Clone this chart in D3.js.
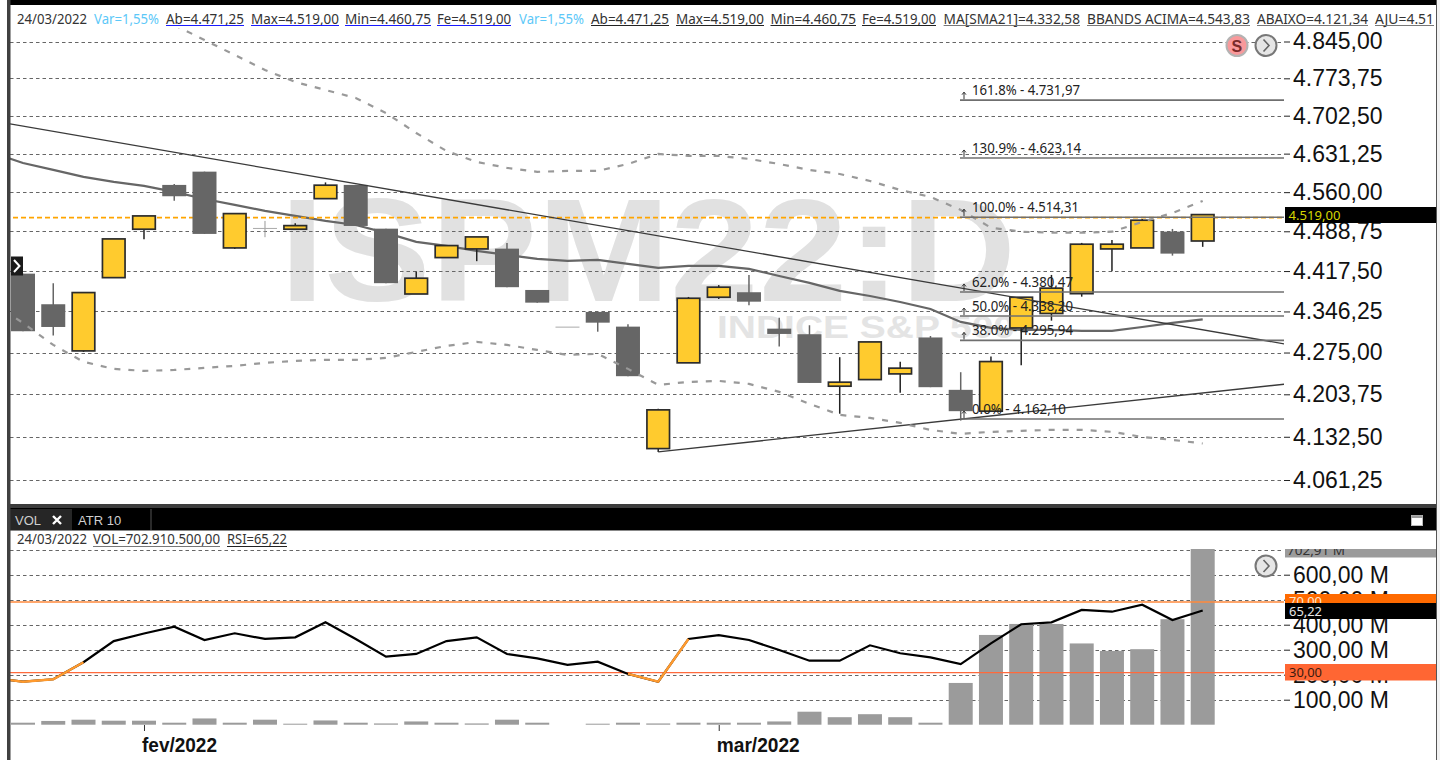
<!DOCTYPE html>
<html>
<head>
<meta charset="utf-8">
<script src="https://cdn.jsdelivr.net/npm/d3@7"></script>
<style>
html,body{margin:0;padding:0;background:#fff;overflow:hidden}
svg{display:block}
</style>
</head>
<body>
<svg id="c" width="1440" height="760"></svg>
<script>
// ---------- data ----------
const openP  = [4412.9,4358.9,4277.8,4405.8,4492.5,4573.3,4597.8,4458.8,4494.8,4492.5,4548.1,4573.3,4493.5,4376.9,4441.5,4457,4457.5,4384,4319.8,4345.4,4319.8,4112.9,4257.3,4371.2,4380,4316.3,4306.6,4217.5,4228.7,4238.4,4301,4211.3,4175.3,4317.5,4342.7,4377.5,4457,4458.8,4488.1,4471.25];
const highP  = [4412.9,4396,4379.4,4475,4516.6,4575.1,4597.8,4520.8,4507.5,4503.3,4577.9,4573.3,4493.5,4416.5,4463,4478.6,4467.8,4384,4319.8,4345.4,4323.9,4179.2,4371.7,4392.5,4410.6,4335.4,4322.2,4267,4293.3,4259.2,4303.5,4241.3,4268,4371.2,4410.6,4467.8,4473,4511,4493,4519];
const lowP   = [4311.8,4304.2,4276,4405.8,4474.5,4544.4,4484,4457,4478.1,4492.5,4548.1,4498.4,4396,4376.9,4441.5,4435.1,4388.9,4361.7,4319.8,4311,4234.5,4107.4,4257.3,4368.2,4357,4285.2,4223,4171,4228.7,4206.2,4215.8,4159.5,4175.3,4253.3,4330.2,4372.2,4417.2,4458.8,4445,4460.75];
const closeP = [4311.8,4319.2,4379.4,4475,4516.6,4552.5,4484,4520.8,4494.8,4499,4572.8,4498.4,4396,4404.8,4463,4478.6,4388.9,4361.7,4319.8,4326.7,4234.5,4177.5,4369.4,4388.9,4363.4,4307.1,4223,4224.3,4293.3,4248.2,4215.8,4175.3,4259.5,4371.2,4387.2,4465.5,4465.5,4508.8,4448.6,4519];
// the overlays start one session before the first visible candle
const sma21 = [4632.4,4613.8,4601,4588,4578.8,4571.5,4560.4,4547.5,4536.6,4525.7,4516.6,4507.5,4500.2,4485.8,4469.6,4462.4,4453.4,4446.3,4439.2,4435.6,4437.4,4430.3,4423.1,4426.7,4426.7,4421.3,4408.8,4396.5,4382.3,4373.4,4362.9,4350.6,4328,4317.5,4314.1,4314.1,4312.3,4312.3,4319.2,4326.2,4332.58];
const bbLower = [4361.1,4326.2,4288.1,4259,4247,4243.5,4245.2,4248.7,4252.1,4257.3,4260.7,4262.4,4262.4,4265.8,4276.1,4286.4,4293.3,4288.1,4279.5,4270.9,4272.7,4247,4219.7,4224.8,4226.5,4221.4,4207.9,4187.6,4169.1,4164,4155.6,4144,4137.3,4140.7,4142.3,4144,4144,4140.7,4132.3,4127.4,4121.34];
const bbUpper = [4877.3,4847.9,4818.8,4789.8,4766.7,4751.4,4736.1,4707.6,4669.9,4636.2,4615.8,4604.8,4597.4,4599.2,4599.2,4612,4630.7,4627,4627,4621.4,4612,4601,4593.5,4580.6,4564,4551.2,4527.6,4495.2,4488,4486.2,4486.2,4488,4505.7,4522,4543.83];
const bbUpperStart = 5;
const volumeM = [8,15,20,16,16,8,25,8,20,4,17,8,5,13,8,5,20,8,0,4,8,5,8,8,8,13,52,30,42,30,8,167,359,403,403,325,295,302,422,702.91];
const rsi = [27,24.9,26.3,35.9,47.9,52.2,56,48.5,52.3,49.1,50,58.5,49.1,39.1,40.6,47.9,50,40.6,38.1,34.4,36.2,29.3,24.9,49.1,51.2,48.5,42.8,36.8,36.8,45.5,41,38.7,34.9,46.6,57.4,58.5,65.5,64.5,68.5,59.8,65.22];
const rsiOrangeRanges = [[-1,2],[20,22]];
const priceTicks = [4845,4773.75,4702.5,4631.25,4560,4488.75,4417.5,4346.25,4275,4203.75,4132.5,4061.25];
const volTicks = [100,200,300,400,500,600];
const volGrid = [100,200,300,400,500,600,700];
const fibLevels = ["161.8%","130.9%","100.0%","62.0%","50.0%","38.0%","0.0%"];
const fibValues = [4731.97,4623.14,4514.31,4380.47,4338.20,4295.94,4162.10];
const fibLabelEnd = [1080,1081,1079,1073,1073,1073,1066];
const trendDown = [[-0.43,4686.9],[41.7,4289.9]];
const trendUp = [[21,4107.4],[41.7,4220.9]];
const currentLinePrice = 4513.5;
const months = ["fev/2022","mar/2022"];
const monthIndex = [4,23];
const header1 = [["24/03/2022",17,87,"#333",null],["Var=1,55%",94,159,"#5cc8f8",null],["Ab=4.471,25",166,244,"#333","#1a1aff"],["Max=4.519,00",251,339,"#333","#1a1aff"],["Min=4.460,75",345,431,"#333","#1a1aff"],["Fe=4.519,00",437,511,"#333","#1a1aff"],["Var=1,55%",519,584,"#5cc8f8",null],["Ab=4.471,25",591,669,"#333","#222"],["Max=4.519,00",676,764,"#333","#222"],["Min=4.460,75",770.5,856,"#333","#222"],["Fe=4.519,00",862,936,"#333","#222"],["MA[SMA21]=4.332,58",943.6,1080,"#333","#777"],["BBANDS ACIMA=4.543,83",1087,1250,"#333","#777"],["ABAIXO=4.121,34",1257,1368,"#333","#777"],["AJU=4.51",1375,1434,"#333","#777"]];
const header2 = [["24/03/2022",17,87,null],["VOL=702.910.500,00",93,220,"#777"],["RSI=65,22",227,287,"#222"]];

// ---------- scales ----------
const x = d3.scaleLinear().domain([0,39]).range([23,1202.7]);
const y = d3.scaleLog().domain([4845,4061.25]).range([41.5,480]);
const yVol = d3.scaleLinear().domain([0,700]).range([724.7,549.7]);
const yRsi = d3.scaleLinear().domain([30,70]).range([672.7,602]);
const loc = d3.formatLocale({decimal:",",thousands:".",grouping:[3],currency:["",""]});
const fmt = loc.format(",.2f");

const svg = d3.select("#c");
const UI = "'Noto Sans',Roboto,sans-serif";
const AX = "'Liberation Sans',Arial,sans-serif";
const defs = svg.append("defs");
defs.append("clipPath").attr("id","mainClip").append("rect").attr("x",10).attr("y",28).attr("width",1274).attr("height",476);
defs.append("clipPath").attr("id","mainClip2").append("rect").attr("x",10).attr("y",28).attr("width",1426).attr("height",476);
defs.append("clipPath").attr("id","volClip").append("rect").attr("x",10).attr("y",549).attr("width",1426).attr("height",211);

const t = (g,s,xp,yp,opts={}) => {
  const n = g.append("text").attr("x",xp).attr("y",yp).text(s)
    .attr("font-family",opts.font||UI).attr("font-size",opts.size||13)
    .attr("fill",opts.fill||"#333");
  if(opts.weight) n.attr("font-weight",opts.weight);
  if(opts.len) n.attr("textLength",opts.len).attr("lengthAdjust","spacingAndGlyphs");
  return n;
};

// ---------- watermark ----------
const main = svg.append("g").attr("clip-path","url(#mainClip2)");
t(main,"ISPM22:D",280,301,{font:AX,size:146,weight:"bold",fill:"#e1e1e1",len:736});
t(main,"INDICE S&P 500",717,338,{font:AX,size:32,weight:"bold",fill:"#e4e4e4",len:298});

// ---------- price grid ----------
const plot = main.append("g").attr("clip-path","url(#mainClip)");
plot.append("g").selectAll("line").data(priceTicks).join("line")
  .attr("x1",10).attr("x2",1284)
  .attr("y1",d=>Math.round(y(d))+.5).attr("y2",d=>Math.round(y(d))+.5)
  .attr("stroke","#666").attr("stroke-width",1.2).attr("stroke-dasharray","3.5 3");

// ---------- SMA below candles ----------
const lineIdx = (start) => d3.line().x((d,i)=>x(i+start)).y(d=>y(d));
plot.append("path").attr("d",lineIdx(-1)(sma21)).attr("fill","none").attr("stroke","#666").attr("stroke-width",2.2);

// ---------- current price line ----------
plot.append("line").attr("x1",13).attr("x2",1284).attr("y1",y(currentLinePrice)).attr("y2",y(currentLinePrice))
  .attr("stroke","#ffa500").attr("stroke-width",1.6).attr("stroke-dasharray","5 3");

// ---------- candles ----------
const YEL="#ffcb2e", GR="#666";
const cand = plot.append("g").selectAll("g").data(d3.range(openP.length)).join("g");
cand.append("line")
  .attr("x1",i=>x(i)).attr("x2",i=>x(i))
  .attr("y1",i=>y(highP[i])).attr("y2",i=>y(lowP[i]))
  .attr("stroke",i=>closeP[i]>openP[i]?"#222":(closeP[i]===openP[i]?"#999":GR))
  .attr("stroke-width",i=>closeP[i]===openP[i]?1:1.5);
cand.append("rect")
  .attr("x",i=>x(i)-(closeP[i]>openP[i]?11.3:12))
  .attr("width",i=>closeP[i]>openP[i]?22.6:24)
  .attr("y",i=>y(Math.max(openP[i],closeP[i])))
  .attr("height",i=>Math.max(y(Math.min(openP[i],closeP[i]))-y(Math.max(openP[i],closeP[i])),closeP[i]===openP[i]?1:0))
  .attr("fill",i=>closeP[i]>openP[i]?YEL:(closeP[i]===openP[i]?"#aaa":GR))
  .attr("stroke",i=>closeP[i]>openP[i]?"#2c2c2c":"none")
  .attr("stroke-width",1.7);

// ---------- trendlines and bands over candles ----------
const pt = d3.line().x(d=>x(d[0])).y(d=>y(d[1]));
plot.append("path").attr("d",pt(trendDown)).attr("stroke","#3a3a3a").attr("stroke-width",1.3).attr("fill","none");
plot.append("path").attr("d",pt(trendUp)).attr("stroke","#3a3a3a").attr("stroke-width",1.3).attr("fill","none");
const bandStyle = p => p.attr("fill","none").attr("stroke","#999").attr("stroke-width",2.2).attr("stroke-dasharray","6 8");
plot.append("path").attr("d",lineIdx(bbUpperStart)(bbUpper)).call(bandStyle);
plot.append("path").attr("d",lineIdx(-1)(bbLower)).call(bandStyle);

// ---------- fibonacci ----------
const fib = plot.append("g");
fibValues.forEach((v,k)=>{
  const ly = y(v);
  fib.append("line").attr("x1",960).attr("x2",1284).attr("y1",ly).attr("y2",ly).attr("stroke","#6f6f6f").attr("stroke-width",1.6);
  fib.append("path").attr("d",`M964 ${ly-1}V${ly-8}M962 ${ly-5.5}L964 ${ly-8}L966 ${ly-5.5}`).attr("fill","none").attr("stroke","#333").attr("stroke-width",1);
  const label = fibLevels[k]+" - "+fmt(v);
  t(fib,label,972,ly-5,{size:13.5,fill:"#222",len:fibLabelEnd[k]-972});
});

// ---------- price axis ----------
const axP = svg.append("g").attr("transform","translate(1284,0)")
  .call(d3.axisRight(y).tickValues(priceTicks).tickFormat(fmt).tickSize(6).tickPadding(3));
axP.select(".domain").remove();
axP.selectAll("line").attr("stroke","#222");
axP.selectAll("text").attr("font-family",AX).attr("font-size",23).attr("fill","#111");

// ---------- icons ----------
const circ = (cx,cy,fill,stroke)=>svg.append("circle").attr("cx",cx).attr("cy",cy).attr("r",10.5).attr("fill",fill).attr("stroke",stroke).attr("stroke-width",2);
const chev = (cx,cy,col,w=1.6)=>svg.append("path").attr("d",`M${cx-2.5} ${cy-6}L${cx+3} ${cy}L${cx-2.5} ${cy+6}`).attr("fill","none").attr("stroke",col).attr("stroke-width",w);
circ(1237,45.5,"#f9999b","#b3b3b3");
t(svg,"S",1231.5,51.5,{font:AX,size:16,weight:"bold",fill:"#7a2a2a"});
circ(1266,45.5,"#e6e6e6","#777");
chev(1266,45.5,"#666");
svg.append("rect").attr("x",11).attr("y",256.5).attr("width",12).attr("height",19).attr("fill","#1a1a1a");
chev(16.5,266,"#fff",2);

// current price tag
svg.append("rect").attr("x",1285).attr("y",207).attr("width",151).attr("height",16).attr("fill","#000");
t(svg,fmt(closeP[closeP.length-1]),1288.5,220,{size:13,fill:"#d6d600",len:52});

// ---------- header ----------
header1.forEach(h=>{
  t(svg,h[0],h[1],23.5,{size:14,fill:h[3],len:h[2]-h[1]});
  if(h[4]) svg.append("line").attr("x1",h[1]).attr("x2",h[2]).attr("y1",25.5).attr("y2",25.5).attr("stroke",h[4]).attr("stroke-width",1.2);
});

// ---------- separators and tabs ----------
svg.append("rect").attr("x",7).attr("y",504).attr("width",1429).attr("height",4).attr("fill","#3c3c3c");
svg.append("rect").attr("x",10).attr("y",508).attr("width",1426).attr("height",22).attr("fill","#000");
svg.append("rect").attr("x",10).attr("y",530).attr("width",1426).attr("height",1).attr("fill","#888");
svg.append("rect").attr("x",10).attr("y",509).attr("width",62).attr("height",21).attr("fill","#262626");
t(svg,"VOL",15,525,{font:AX,size:13,fill:"#cfcfcf"});
svg.append("path").attr("d","M53 516L61 524M61 516L53 524").attr("stroke","#fff").attr("stroke-width",2.4);
t(svg,"ATR 10",78,525,{font:AX,size:13,fill:"#cfcfcf"});
svg.append("line").attr("x1",151).attr("x2",151).attr("y1",509).attr("y2",530).attr("stroke","#555");
svg.append("rect").attr("x",1411.5).attr("y",515.5).attr("width",11).attr("height",10).attr("fill","#fff").attr("stroke","#bbb");
svg.append("rect").attr("x",1411.5).attr("y",515.5).attr("width",11).attr("height",2.5).attr("fill","#999");
header2.forEach(h=>{
  t(svg,h[0],h[1],543.5,{size:14,fill:"#333",len:h[2]-h[1]});
  if(h[3]) svg.append("line").attr("x1",h[1]).attr("x2",h[2]).attr("y1",546.5).attr("y2",546.5).attr("stroke",h[3]);
});

// ---------- volume pane ----------
const vol = svg.append("g").attr("clip-path","url(#volClip)");
vol.append("g").selectAll("line").data(volGrid).join("line")
  .attr("x1",10).attr("x2",1284)
  .attr("y1",d=>Math.round(yVol(d))+.5).attr("y2",d=>Math.round(yVol(d))+.5)
  .attr("stroke","#666").attr("stroke-width",1.2).attr("stroke-dasharray","3.5 3");
vol.append("g").selectAll("rect").data(d3.range(volumeM.length).filter(i=>volumeM[i]>0)).join("rect")
  .attr("x",i=>Math.max(x(i)-12,11)).attr("width",i=>x(i)-12<11?x(i)+12-11:24)
  .attr("y",i=>yVol(volumeM[i])).attr("height",i=>yVol(0)-yVol(volumeM[i]))
  .attr("fill","#9b9b9b");

// RSI guide lines
vol.append("line").attr("x1",10).attr("x2",1284).attr("y1",yRsi(70)).attr("y2",yRsi(70)).attr("stroke","#ff8a3c").attr("stroke-width",1.3);
vol.append("line").attr("x1",10).attr("x2",1284).attr("y1",yRsi(30)).attr("y2",yRsi(30)).attr("stroke","#ff6a3c").attr("stroke-width",1.3);

// RSI line
const rsiLine = d3.line().x(d=>x(d[0])).y(d=>yRsi(d[1]));
const rsiPts = rsi.map((v,k)=>[k-1,v]);
vol.append("path").attr("d",rsiLine(rsiPts)).attr("fill","none").attr("stroke","#000").attr("stroke-width",2.2);
rsiOrangeRanges.forEach(r=>{
  vol.append("path").attr("d",rsiLine(rsiPts.filter(p=>p[0]>=r[0]&&p[0]<=r[1]))).attr("fill","none").attr("stroke","#ff9a2e").attr("stroke-width",2.4);
});
svg.append("rect").attr("x",0).attr("y",0).attr("width",7).attr("height",760).attr("fill","#fff");

// volume axis
const axV = svg.append("g").attr("transform","translate(1284,0)")
  .call(d3.axisRight(yVol).tickValues(volTicks).tickFormat(d=>loc.format(".2f")(d)+" M").tickSize(6).tickPadding(3));
axV.select(".domain").remove();
axV.selectAll("line").attr("stroke","#222");
axV.selectAll("text").attr("font-family",AX).attr("font-size",23).attr("fill","#111");

circ(1266,566,"#e6e6e6","#777");
chev(1266,566,"#666");

// tags
const tagLast = svg.append("g").attr("clip-path","url(#volClip)");
tagLast.append("rect").attr("x",1285).attr("y",549).attr("width",151).attr("height",8.5).attr("fill","#9b9b9b");
t(tagLast,"702,91 M",1287,555,{size:13,fill:"#333",len:58});
svg.append("rect").attr("x",1285).attr("y",594).attr("width",151).attr("height",9).attr("fill","#ff6a00");
t(svg,"70,00",1289,606,{size:13,fill:"#ffe6d0",len:33});
svg.append("rect").attr("x",1285).attr("y",603).attr("width",151).attr("height",16).attr("fill","#000");
t(svg,"65,22",1289,615.5,{size:13,fill:"#e8e8e8",len:33});
svg.append("rect").attr("x",1285).attr("y",664).attr("width",151).attr("height",16.5).attr("fill","#ff6633");
t(svg,"30,00",1289,677,{size:13,fill:"#3a1a10",len:33});

// ---------- month axis ----------
const axM = svg.append("g").attr("transform","translate(0,725)")
  .call(d3.axisBottom(x).tickValues(monthIndex).tickFormat("").tickSize(6));
axM.select(".domain").remove();
axM.selectAll("line").attr("stroke","#333");
monthIndex.forEach((idx,k)=>{
  t(svg,months[k],x(idx)-2,752,{font:AX,size:19.5,weight:"bold",fill:"#111",len:k===0?75:83});
});

// ---------- frame ----------
svg.append("rect").attr("x",7).attr("y",0).attr("width",1429).attr("height",5).attr("fill","#000");
svg.append("rect").attr("x",7).attr("y",0).attr("width",3.5).attr("height",760).attr("fill","#404040");
svg.append("rect").attr("x",1436).attr("y",0).attr("width",1).attr("height",760).attr("fill","#555");
svg.append("rect").attr("x",1437).attr("y",0).attr("width",3).attr("height",760).attr("fill","#f2f2f2");
</script>
</body>
</html>
